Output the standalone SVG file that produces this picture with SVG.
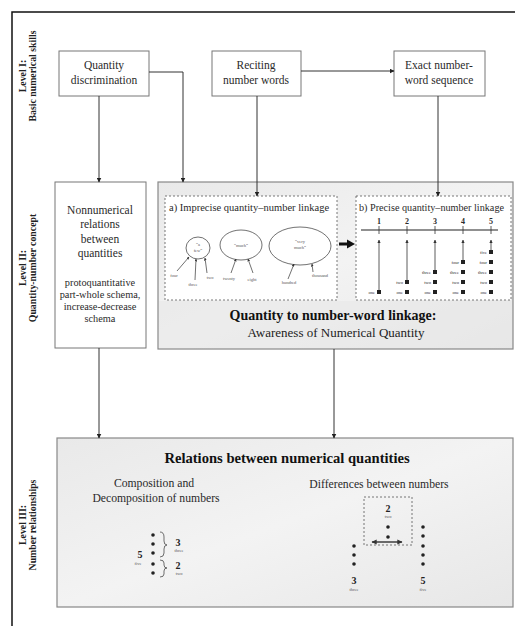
<svg xmlns="http://www.w3.org/2000/svg" width="515" height="626" viewBox="0 0 515 626" font-family="'Liberation Serif', 'Times New Roman', serif">
  <defs>
    <marker id="arr" viewBox="0 0 10 10" refX="9" refY="5" markerWidth="5" markerHeight="5" orient="auto-start-reverse">
      <path d="M0,0 L10,5 L0,10 z" fill="#222"/>
    </marker>
    <marker id="arrs" viewBox="0 0 10 10" refX="9" refY="5" markerWidth="4" markerHeight="4" orient="auto-start-reverse">
      <path d="M0,0 L10,5 L0,10 z" fill="#333"/>
    </marker>
    <linearGradient id="greyFill" x1="0" y1="0" x2="1" y2="1">
      <stop offset="0" stop-color="#e9e9e9"/>
      <stop offset="0.5" stop-color="#f3f3f3"/>
      <stop offset="1" stop-color="#e7e7e7"/>
    </linearGradient>
    <style>
      text { font-family: 'Liberation Serif', 'Times New Roman', serif; fill: #2a2a2a; }
      .box { fill: #fff; stroke: #777; stroke-width: 1; }
      .grey { fill: url(#greyFill); stroke: #888; stroke-width: 1.2; }
      .dash { fill: #fff; stroke: #555; stroke-width: 0.8; stroke-dasharray: 2 2; }
      .conn { fill: none; stroke: #333; stroke-width: 1; marker-end: url(#arr); }
      .t { font-size: 11.5px; text-anchor: middle; }
      .tm { font-size: 11.7px; text-anchor: middle; }
      .ts { font-size: 10.3px; text-anchor: middle; }
      .lvl { font-size: 9.8px; font-weight: bold; text-anchor: middle; fill: #222; }
      .sub { font-size: 10.5px; }
      .tiny { font-size: 4.5px; text-anchor: middle; fill: #555; }
      .tinyr { font-size: 4.5px; text-anchor: end; fill: #555; }
      .num { font-size: 8px; font-weight: bold; text-anchor: middle; fill: #222; }
      .numl { font-size: 10px; font-weight: bold; text-anchor: middle; fill: #222; }
      .dot { fill: #222; }
      .thin { fill: none; stroke: #333; stroke-width: 0.7; }
    </style>
  </defs>

  <rect x="0" y="0" width="515" height="626" fill="#fff"/>
  <!-- outer frame -->
  <path d="M12,626 V12 H515" fill="none" stroke="#111" stroke-width="1.5"/>

  <!-- level labels -->
  <g id="level-labels">
    <g transform="translate(26,76) rotate(-90)">
      <text class="lvl" x="0" y="0">Level I:</text>
      <text class="lvl" x="0" y="10">Basic numerical skills</text>
    </g>
    <g transform="translate(26,268) rotate(-90)">
      <text class="lvl" x="0" y="0">Level II:</text>
      <text class="lvl" x="0" y="10">Quantity-number concept</text>
    </g>
    <g transform="translate(26,525) rotate(-90)">
      <text class="lvl" x="0" y="0">Level III:</text>
      <text class="lvl" x="0" y="10">Number relationships</text>
    </g>
  </g>

  <!-- level I -->
  <g id="quantity-discrimination">
    <rect class="box" x="59" y="51" width="90" height="45"/>
    <text class="t" x="104" y="69">Quantity</text>
    <text class="t" x="104" y="84">discrimination</text>
  </g>
  <g id="reciting-number-words">
    <rect class="box" x="212" y="51" width="89" height="45"/>
    <text class="t" x="256" y="69">Reciting</text>
    <text class="t" x="256" y="84">number words</text>
  </g>
  <g id="exact-sequence">
    <rect class="box" x="394" y="51" width="91" height="45"/>
    <text class="t" x="439" y="69">Exact number-</text>
    <text class="t" x="439" y="84">word sequence</text>
  </g>

  <!-- level II -->
  <g id="nonnumerical-relations">
    <rect class="box" x="55" y="182" width="91" height="166"/>
    <text class="t" x="100" y="214">Nonnumerical</text>
    <text class="t" x="100" y="228">relations</text>
    <text class="t" x="100" y="243">between</text>
    <text class="t" x="100" y="257">quantities</text>
    <text class="ts" x="100" y="286">protoquantitative</text>
    <text class="ts" x="100" y="298">part-whole schema,</text>
    <text class="ts" x="100" y="310">increase-decrease</text>
    <text class="ts" x="100" y="322">schema</text>
  </g>

  <g id="quantity-number-linkage">
    <rect class="grey" x="158" y="182" width="355" height="167"/>
    <rect x="159" y="301" width="353" height="47" fill="#e8e8e8" opacity="0.6"/>

    <!-- a) imprecise linkage -->
    <g id="imprecise-linkage">
      <rect class="dash" x="165" y="196" width="172" height="104"/>
      <text class="sub" x="169" y="211">a) Imprecise quantity–number linkage</text>
      <ellipse class="thin" cx="198" cy="248" rx="12" ry="11"/>
      <text class="tiny" x="198" y="246">“a</text>
      <text class="tiny" x="198" y="252">few”</text>
      <ellipse class="thin" cx="241" cy="245" rx="21" ry="15"/>
      <text class="tiny" x="241" y="247">“much”</text>
      <ellipse class="thin" cx="300" cy="246" rx="31" ry="19"/>
      <text class="tiny" x="300" y="243">“very</text>
      <text class="tiny" x="300" y="249">much”</text>
      <g stroke="#333" stroke-width="0.7" fill="none" marker-end="url(#arrs)">
        <path d="M177,271 L189,257"/>
        <path d="M195,280 L196,259"/>
        <path d="M207,273 L205,258"/>
        <path d="M231,273 L236,259"/>
        <path d="M253,273 L248,259"/>
        <path d="M288,279 L294,264"/>
        <path d="M313,272 L312,264"/>
      </g>
      <text class="tiny" x="174" y="277">four</text>
      <text class="tiny" x="193" y="286">three</text>
      <text class="tiny" x="210" y="279">two</text>
      <text class="tiny" x="229" y="280">twenty</text>
      <text class="tiny" x="252" y="281">eight</text>
      <text class="tiny" x="289" y="284">hundred</text>
      <text class="tiny" x="320" y="277">thousand</text>
    </g>

    <!-- thick arrow between a) and b) -->
    <path d="M339,244 H348" stroke="#111" stroke-width="3"/>
    <path d="M347,239.5 L355,244 L347,248.5 z" fill="#111"/>

    <!-- b) precise linkage -->
    <g id="precise-linkage">
      <rect class="dash" x="356" y="196" width="155" height="104"/>
      <text class="sub" x="359" y="211" textLength="145" lengthAdjust="spacingAndGlyphs">b) Precise quantity–number linkage</text>
      <path d="M361,230 H498" stroke="#222" stroke-width="1.2"/>
      <g class="num">
        <text x="379" y="224">1</text>
        <text x="407" y="224">2</text>
        <text x="435" y="224">3</text>
        <text x="463" y="224">4</text>
        <text x="491" y="224">5</text>
      </g>
      <g stroke="#333" stroke-width="0.8">
        <path d="M379,226 V234 M407,226 V234 M435,226 V234 M463,226 V234 M491,226 V234"/>
      </g>
      <g stroke="#333" stroke-width="0.8" fill="none" marker-end="url(#arrs)">
        <path d="M379,291 V240"/>
        <path d="M407,281 V240"/>
        <path d="M435,271 V240"/>
        <path d="M463,261 V240"/>
        <path d="M491,251 V240"/>
      </g>
      <g class="dot">
        <rect x="377" y="290" width="4" height="4"/>
        <rect x="405" y="280" width="4" height="4"/><rect x="405" y="290" width="4" height="4"/>
        <rect x="433" y="270" width="4" height="4"/><rect x="433" y="280" width="4" height="4"/><rect x="433" y="290" width="4" height="4"/>
        <rect x="461" y="260" width="4" height="4"/><rect x="461" y="270" width="4" height="4"/><rect x="461" y="280" width="4" height="4"/><rect x="461" y="290" width="4" height="4"/>
        <rect x="489" y="250" width="4" height="4"/><rect x="489" y="260" width="4" height="4"/><rect x="489" y="270" width="4" height="4"/><rect x="489" y="280" width="4" height="4"/><rect x="489" y="290" width="4" height="4"/>
      </g>
      <g class="tinyr">
        <text x="375" y="294">one</text>
        <text x="403" y="284">two</text><text x="403" y="294">one</text>
        <text x="431" y="274">three</text><text x="431" y="284">two</text><text x="431" y="294">one</text>
        <text x="459" y="264">four</text><text x="459" y="274">three</text><text x="459" y="284">two</text><text x="459" y="294">one</text>
        <text x="487" y="254">five</text><text x="487" y="264">four</text><text x="487" y="274">three</text><text x="487" y="284">two</text><text x="487" y="294">one</text>
      </g>
    </g>

    <text x="333" y="320" style="font-size:14px;font-weight:bold;text-anchor:middle;fill:#111">Quantity to number-word linkage:</text>
    <text x="336" y="337" style="font-size:13px;text-anchor:middle;fill:#222">Awareness of Numerical Quantity</text>
  </g>

  <!-- level III -->
  <g id="numerical-relations">
    <rect class="grey" x="57" y="438" width="456" height="169"/>
    <text x="287" y="463" style="font-size:14.6px;font-weight:bold;text-anchor:middle;fill:#111">Relations between numerical quantities</text>
    <text class="tm" x="154" y="487">Composition and</text>
    <text class="tm" x="156" y="502">Decomposition of numbers</text>
    <text class="tm" x="379" y="488">Differences between numbers</text>

    <!-- composition / decomposition of 5 -->
    <g id="composition">
      <g class="dot">
        <circle cx="153" cy="535" r="1.8"/>
        <circle cx="153" cy="544" r="1.8"/>
        <circle cx="153" cy="553" r="1.8"/>
        <circle cx="153" cy="564" r="1.8"/>
        <circle cx="153" cy="573" r="1.8"/>
      </g>
      <text class="numl" x="140" y="558">5</text>
      <text class="tiny" x="138" y="565">five</text>
      <path class="thin" d="M160,532 Q164,532 164,537 V541 Q164,545 167,545 Q164,545 164,549 V553 Q164,557 160,557"/>
      <path class="thin" d="M160,560 Q164,560 164,563 V565 Q164,568 167,568 Q164,568 164,571 V574 Q164,577 160,577"/>
      <text class="numl" x="178" y="546">3</text>
      <text class="tiny" x="179" y="552">three</text>
      <text class="numl" x="178" y="569">2</text>
      <text class="tiny" x="179" y="575">two</text>
    </g>

    <!-- differences between 5 and 3 -->
    <g id="difference">
      <rect x="364" y="497" width="48" height="48" fill="none" stroke="#555" stroke-width="0.8" stroke-dasharray="2 2"/>
      <text class="numl" x="388" y="512">2</text>
      <text class="tiny" x="388" y="518">two</text>
      <circle class="dot" cx="388" cy="527" r="1.8"/>
      <circle class="dot" cx="388" cy="537" r="1.8"/>
      <path d="M372,542 H402" stroke="#222" stroke-width="1.3" marker-start="url(#arrs)" marker-end="url(#arrs)"/>
      <g class="dot">
        <circle cx="354" cy="546" r="1.8"/>
        <circle cx="354" cy="555" r="1.8"/>
        <circle cx="354" cy="564" r="1.8"/>
        <circle cx="423" cy="527" r="1.8"/>
        <circle cx="423" cy="536" r="1.8"/>
        <circle cx="423" cy="546" r="1.8"/>
        <circle cx="423" cy="555" r="1.8"/>
        <circle cx="423" cy="564" r="1.8"/>
      </g>
      <text class="numl" x="354" y="584">3</text>
      <text class="tiny" x="354" y="591">three</text>
      <text class="numl" x="423" y="584">5</text>
      <text class="tiny" x="423" y="591">five</text>
    </g>
  </g>

  <!-- connectors -->
  <g id="connectors">
    <path class="conn" d="M301,71 H394"/>
    <path class="conn" d="M99,96 V182"/>
    <path class="conn" d="M149,72 H183 V182"/>
    <path class="conn" d="M257,96 V196"/>
    <path class="conn" d="M438,96 V196"/>
    <path class="conn" d="M99,348 V438"/>
    <path class="conn" d="M334,349 V438"/>
  </g>
</svg>
